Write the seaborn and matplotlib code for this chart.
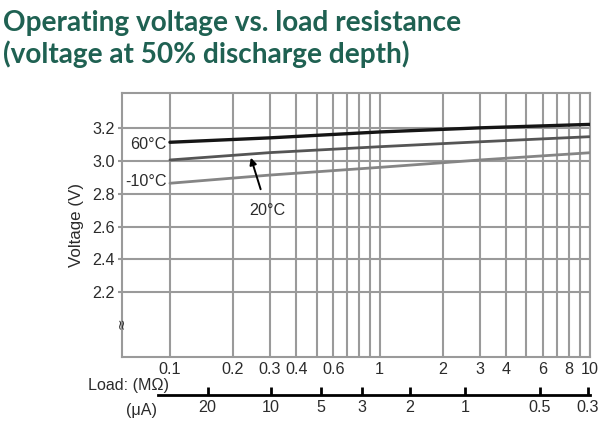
import seaborn as sns
import matplotlib.pyplot as plt
import pandas as pd

# load resistance (MOhm) and the operating voltage read at 50% discharge depth
load_mohm = [0.1, 0.3, 1, 3, 10]
v_60c = [3.115, 3.142, 3.178, 3.203, 3.224]
v_20c = [3.007, 3.052, 3.088, 3.118, 3.149]
v_m10c = [2.865, 2.915, 2.962, 3.007, 3.051]

# grid / tick labels of the resistance axis
x_ticks = [0.1, 0.2, 0.3, 0.4, 0.5, 0.6, 0.7, 0.8, 0.9,
           1, 2, 3, 4, 5, 6, 7, 8, 9, 10]
x_labels = ["0.1", "0.2", "0.3", "0.4", "", "0.6", "", "", "",
            "1", "2", "3", "4", "", "6", "", "8", "", "10"]
y_ticks = [2.2, 2.4, 2.6, 2.8, 3.0, 3.2]

# load current scale (uA) and where its ticks sit on the MOhm axis
ua_labels = ["20", "10", "5", "3", "2", "1", "0.5", "0.3"]
ua_pos_mohm = [0.151, 0.303, 0.524, 0.826, 1.39, 2.55, 5.79, 9.84]

df = pd.concat([
    pd.DataFrame({"load": load_mohm, "volt": v_60c, "temp": "60°C"}),
    pd.DataFrame({"load": load_mohm, "volt": v_20c, "temp": "20°C"}),
    pd.DataFrame({"load": load_mohm, "volt": v_m10c, "temp": "-10°C"}),
])

sns.set_theme(style="white")
plt.rcParams["font.family"] = ["Liberation Sans", "DejaVu Sans"]
grid_c = "#9a9a9a"
txt_c = "#2b2b2b"
fs = 11.6

fig = plt.figure(figsize=(6.05, 4.26), dpi=100)
ax = fig.add_axes([0.2012, 0.1627, 0.774, 0.618])

sns.lineplot(data=df, x="load", y="volt", hue="temp", ax=ax, legend=False,
             palette={"60°C": "#151515", "20°C": "#555555", "-10°C": "#858585"},
             linewidth=2.0, zorder=3)
for l in ax.lines:
    if l.get_color() == "#151515":
        l.set_linewidth(2.4)

ax.set_xscale("log")
ax.set_xlim(0.0589, 10.05)
ax.set_ylim(1.807, 3.413)
ax.set_xticks(x_ticks)
ax.set_xticklabels(x_labels)
ax.minorticks_off()
ax.set_yticks(y_ticks)
ax.set_yticklabels([f"{v:.1f}" for v in y_ticks])
ax.grid(True, color=grid_c, linewidth=1.5)
ax.set_axisbelow(True)
for s in ax.spines.values():
    s.set_color(grid_c)
    s.set_linewidth(1.5)
ax.tick_params(axis="x", length=0, pad=3.5, labelsize=fs, labelcolor=txt_c)
ax.tick_params(axis="y", length=3, width=1.5, color=grid_c, pad=2,
               labelsize=fs, labelcolor=txt_c, left=True)
ax.set_xlabel("")
ax.set_ylabel("Voltage (V)", fontsize=fs + 0.6, color=txt_c, labelpad=6)

# temperature labels
ax.text(0.0965, 3.104, "60°C", ha="right", va="center", fontsize=fs, color=txt_c)
ax.text(0.0965, 2.873, "-10°C", ha="right", va="center", fontsize=fs, color=txt_c)
ax.annotate("20°C", xy=(0.243, 3.021), xytext=(0.291, 2.698),
            ha="center", va="center", fontsize=fs, color=txt_c,
            arrowprops=dict(arrowstyle="-|>", color="black", lw=1.4,
                            shrinkA=8, shrinkB=0, mutation_scale=10))

# axis break mark
ax.text(0.0589, 2.01, "≈", rotation=90, ha="center", va="center",
        fontsize=10, color="#333333", zorder=6, clip_on=False,
        family="DejaVu Sans")

# current scale under the resistance axis
sec = ax.secondary_xaxis(-0.1454)
sec.set_xticks(ua_pos_mohm)
sec.set_xticklabels(ua_labels)
sec.xaxis.set_minor_locator(plt.NullLocator())
sec.spines["bottom"].set_bounds(0.088, 10)
sec.spines["bottom"].set_color("black")
sec.spines["bottom"].set_linewidth(2.0)
sec.tick_params(axis="x", direction="in", length=6, width=2, color="black",
                pad=3.5, labelsize=fs, labelcolor=txt_c)

fig.text(88 / 605, 1 - 385.5 / 426, "Load: (MΩ)", ha="left", va="center",
         fontsize=fs, color=txt_c)
fig.text(157 / 605, 1 - 411 / 426, "(μA)", ha="right", va="center",
         fontsize=fs, color=txt_c)

title_c = "#1f6152"
fig.text(0.005, 1 - 30.7 / 426, "Operating voltage vs. load resistance",
         fontsize=20.2, fontweight="bold", color=title_c, family="Lato",
         va="baseline")
fig.text(0.005, 1 - 63.3 / 426, "(voltage at 50% discharge depth)",
         fontsize=20.2, fontweight="bold", color=title_c, family="Lato",
         va="baseline")

fig.savefig("out.png", dpi=100)
